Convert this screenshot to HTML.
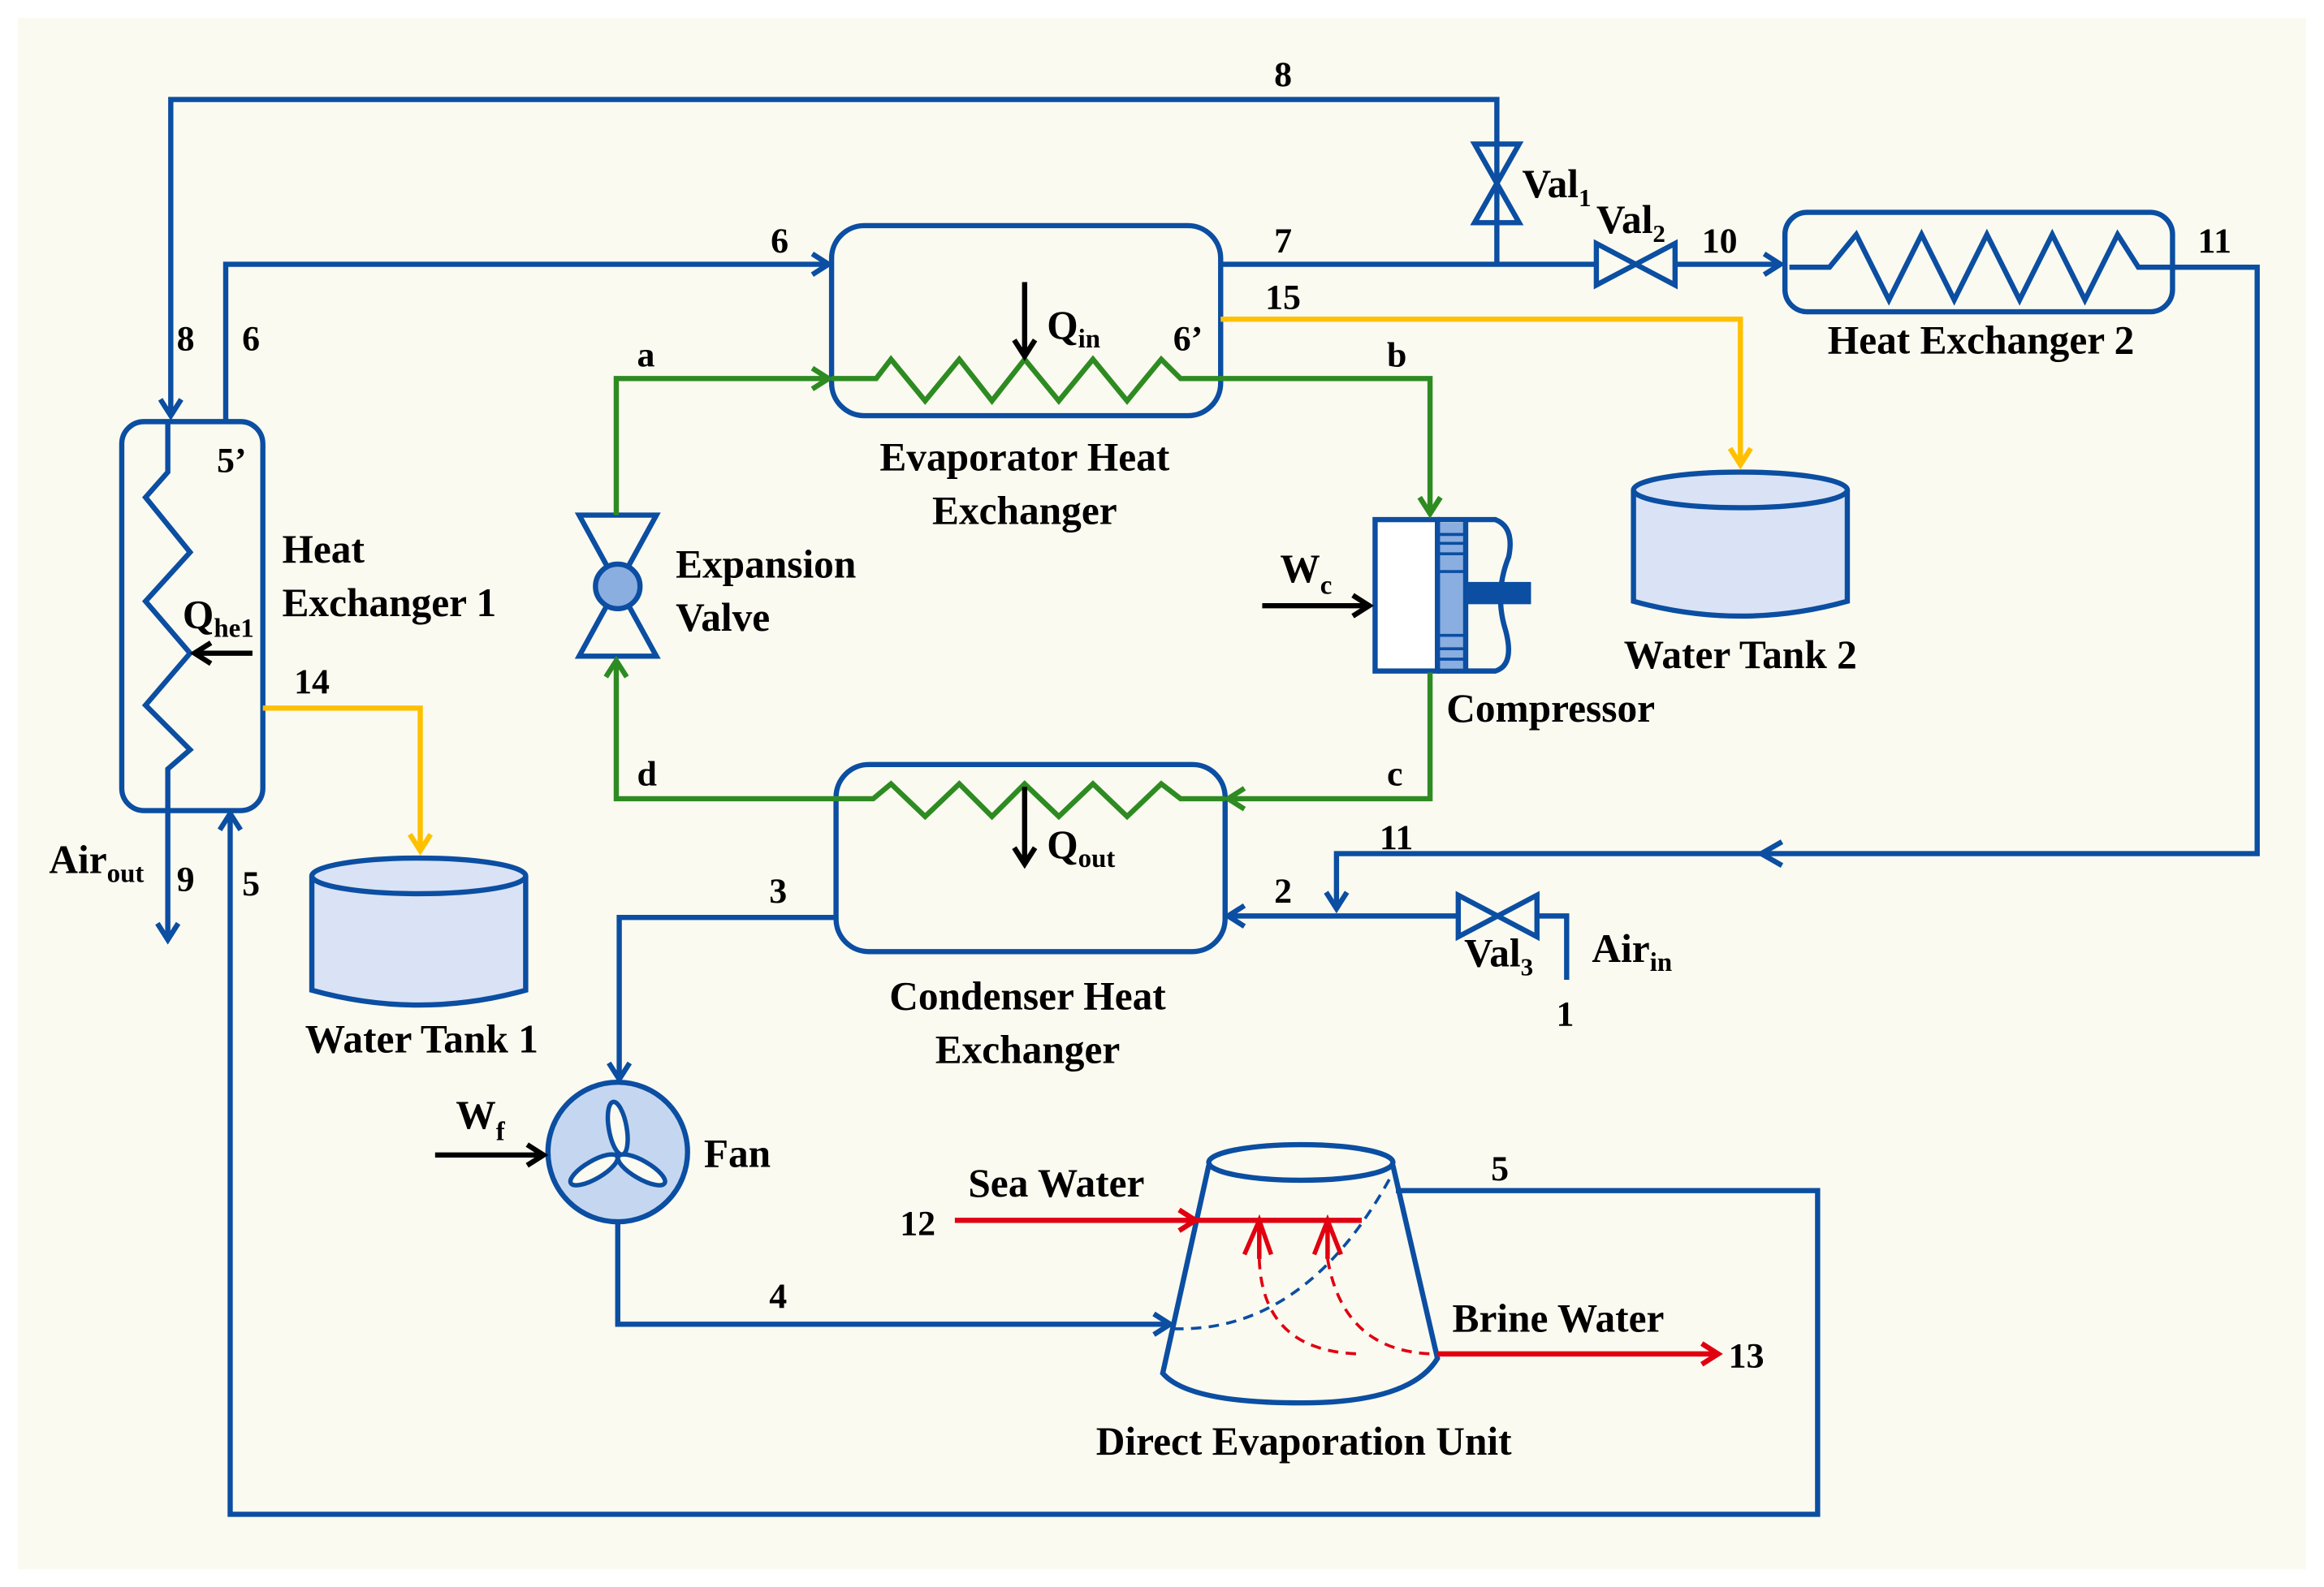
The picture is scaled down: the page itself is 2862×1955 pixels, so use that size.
<!DOCTYPE html>
<html><head><meta charset="utf-8"><style>
html,body{margin:0;padding:0;background:#fff;}
svg{display:block;}
text{font-family:"Liberation Serif",serif;font-weight:bold;fill:#000;}
</style></head><body>
<svg width="2862" height="1955" viewBox="0 0 1565 1069" preserveAspectRatio="none" xmlns="http://www.w3.org/2000/svg">
<defs>
<marker id="ab" markerUnits="userSpaceOnUse" markerWidth="16" markerHeight="16" refX="12" refY="7" orient="auto" overflow="visible"><path d="M1,0 L12,7 L1,14" fill="none" stroke="#0b4ea2" stroke-width="3.5"/></marker>
<marker id="ag" markerUnits="userSpaceOnUse" markerWidth="16" markerHeight="16" refX="12" refY="7" orient="auto" overflow="visible"><path d="M1,0 L12,7 L1,14" fill="none" stroke="#2e8b22" stroke-width="3.5"/></marker>
<marker id="ay" markerUnits="userSpaceOnUse" markerWidth="16" markerHeight="16" refX="12" refY="7" orient="auto" overflow="visible"><path d="M1,0 L12,7 L1,14" fill="none" stroke="#ffc000" stroke-width="3.5"/></marker>
<marker id="ar" markerUnits="userSpaceOnUse" markerWidth="16" markerHeight="16" refX="12" refY="7" orient="auto" overflow="visible"><path d="M1,0 L12,7 L1,14" fill="none" stroke="#e00010" stroke-width="3.5"/></marker>
<marker id="ak" markerUnits="userSpaceOnUse" markerWidth="16" markerHeight="16" refX="12" refY="7" orient="auto" overflow="visible"><path d="M1,0 L12,7 L1,14" fill="none" stroke="#000" stroke-width="3.5"/></marker>
</defs>
<rect x="12" y="12" width="1541" height="1045" fill="#fafaf0"/>
<g fill="none" stroke="#0b4ea2" stroke-width="3.5">
<!-- line 8 -->
<path d="M1008,150 L1008,67 L115,67 L115,280" marker-end="url(#ab)"/>
<!-- line 6 -->
<path d="M152,284 L152,178 L558,178" marker-end="url(#ab)"/>
<!-- evaporator -->
<rect x="560" y="152" width="262" height="128" rx="22"/>
<!-- line 7 -->
<path d="M822,178 L1075,178"/>
<path d="M1128,178 L1199,178" marker-end="url(#ab)"/>
<path d="M1008,150 L1008,178"/>
<!-- valves -->
<path d="M993,97 L1023,97 L993,150 L1023,150 Z"/>
<path d="M1075,164 L1075,192 L1128,164 L1128,192 Z"/>
<path d="M982,603 L982,631 L1035,603 L1035,631 Z"/>
<!-- HX2 -->
<rect x="1202" y="143" width="261" height="67" rx="15"/>
<path d="M1205,180 L1232,180 L1250,158 L1272,202 L1294,158 L1316,202 L1338,158 L1360,202 L1382,158 L1404,202 L1426,158 L1440,180 L1463,180"/>
<!-- line 11 -->
<path d="M1463,180 L1520,180 L1520,575 L900,575 L900,612" marker-end="url(#ab)"/>
<path d="M1200,567 L1186,575 L1200,583"/>
<!-- compressor -->
<rect x="926" y="350" width="42" height="102" fill="#fff"/>
<path d="M968,350 L1007,350 Q1020,355 1016,375 Q1006,400 1014,425 Q1020,448 1007,452 L968,452"/>
<rect x="969" y="352" width="18" height="98" fill="#8aaee0" stroke="none"/>
<g stroke="#0b4ea2" stroke-width="2"><path d="M969,360H987M969,366H987M969,373H987M969,385H987M969,428H987M969,437H987M969,444H987"/></g>
<path d="M968,350 L968,452 M987,350 L987,452"/>
<rect x="987" y="392" width="44" height="15" fill="#0b4ea2" stroke="none"/>
<!-- condenser -->
<rect x="563" y="515" width="262" height="126" rx="22"/>
<!-- line 2 -->
<path d="M1055,660 L1055,617 L1035,617"/>
<path d="M982,617 L827,617" marker-end="url(#ab)"/>
<!-- line 3 -->
<path d="M563,618 L417,618 L417,727" marker-end="url(#ab)"/>
<!-- fan -->
<circle cx="416" cy="776" r="47" fill="#c5d7f0"/>
<!-- line 4 -->
<path d="M416,823 L416,892 L788,892" marker-end="url(#ab)"/>
<!-- DEU -->
<ellipse cx="876" cy="783" rx="62" ry="12"/>
<path d="M814,785 L783,925 Q800,945 876,945 Q950,945 968,915 L938,785"/>
<path d="M790,895 Q880,898 938,790" stroke-width="2" stroke-dasharray="7,5"/>
<!-- line 5 -->
<path d="M940,802 L1224,802 L1224,1020 L155,1020 L155,548" marker-end="url(#ab)"/>
<!-- HX1 -->
<rect x="82" y="284" width="95" height="262" rx="15"/>
<path d="M113,284 L113,318 L98,335 L128,372 L98,405 L128,440 L98,475 L128,505 L113,518 L113,633" marker-end="url(#ab)"/>
<!-- tanks -->
<path d="M1100,330 L1100,405 Q1172,425 1244,405 L1244,330" fill="#d9e3f5"/>
<ellipse cx="1172" cy="330" rx="72" ry="12" fill="#d9e3f5"/>
<path d="M210,590 L210,667 Q282,687 354,667 L354,590" fill="#d9e3f5"/>
<ellipse cx="282" cy="590" rx="72" ry="12" fill="#d9e3f5"/>
<!-- expansion valve -->
<path d="M390,347 L442,347 L390,442 L442,442 Z"/>
<circle cx="416" cy="395" r="15" fill="#8aaee0"/>
</g>
<!-- fan blades -->
<g fill="#fafaf0" stroke="#0b4ea2" stroke-width="3">
<ellipse cx="416" cy="760" rx="6" ry="18" transform="rotate(-10 416 760)"/>
<ellipse cx="400" cy="788" rx="6" ry="18" transform="rotate(60 400 788)"/>
<ellipse cx="432" cy="788" rx="6" ry="18" transform="rotate(-60 432 788)"/>
</g>
<!-- green loop -->
<g fill="none" stroke="#2e8b22" stroke-width="3.5">
<path d="M415,347 L415,255 L558,255" marker-end="url(#ag)"/>
<path d="M560,255 L590,255 L600,242 L623,270 L646,242 L668,270 L690,242 L713,270 L736,242 L759,270 L782,242 L795,255 L963,255 L963,346" marker-end="url(#ag)"/>
<path d="M963,453 L963,538 L827,538" marker-end="url(#ag)"/>
<path d="M825,538 L795,538 L782,528 L759,550 L736,528 L713,550 L690,528 L668,550 L646,528 L623,550 L600,528 L588,538 L415,538 L415,445" marker-end="url(#ag)"/>
</g>
<!-- yellow -->
<g fill="none" stroke="#ffc000" stroke-width="3.5">
<path d="M822,215 L1172,215 L1172,313" marker-end="url(#ay)"/>
<path d="M177,477 L283,477 L283,573" marker-end="url(#ay)"/>
</g>
<!-- red -->
<g fill="none" stroke="#e00010" stroke-width="3.5">
<path d="M643,822 L805,822" marker-end="url(#ar)"/>
<path d="M805,822 L917,822"/>
<path d="M968,912 L1157,912" marker-end="url(#ar)"/>
<g stroke-width="3"><path d="M838,845 L848,822 L856,845 M848,822 L848,848 M885,845 L894,822 L903,845 M894,822 L894,848"/></g>
<g stroke-width="2" stroke-dasharray="7,5"><path d="M848,848 Q850,910 915,912 M894,848 Q905,912 968,912"/></g>
</g>
<!-- black arrows -->
<g fill="none" stroke="#000" stroke-width="3.5">
<path d="M690,190 L690,240" marker-end="url(#ak)"/>
<path d="M690,530 L690,582" marker-end="url(#ak)"/>
<path d="M850,408 L922,408" marker-end="url(#ak)"/>
<path d="M293,778 L366,778" marker-end="url(#ak)"/>
<path d="M170,440 L131,440" marker-end="url(#ak)"/>
</g>
<!-- labels -->
<g font-size="24">
<text x="858" y="58">8</text>
<text x="519" y="170">6</text>
<text x="858" y="170">7</text>
<text x="852" y="208">15</text>
<text x="1146" y="170">10</text>
<text x="1480" y="170">11</text>
<text x="929" y="572">11</text>
<text x="119" y="236">8</text>
<text x="163" y="236">6</text>
<text x="146" y="318">5’</text>
<text x="790" y="236">6’</text>
<text x="429" y="247">a</text>
<text x="934" y="247">b</text>
<text x="934" y="529">c</text>
<text x="429" y="529">d</text>
<text x="198" y="467">14</text>
<text x="119" y="600">9</text>
<text x="163" y="603">5</text>
<text x="518" y="608">3</text>
<text x="858" y="608">2</text>
<text x="1048" y="691">1</text>
<text x="518" y="881">4</text>
<text x="1004" y="795">5</text>
<text x="606" y="832">12</text>
<text x="1164" y="921">13</text>
</g>
<g font-size="27">
<text x="1025" y="133">Val<tspan font-size="17" dy="6">1</tspan></text>
<text x="1075" y="157">Val<tspan font-size="17" dy="6">2</tspan></text>
<text x="986" y="651">Val<tspan font-size="17" dy="6">3</tspan></text>
<text x="705" y="228">Q<tspan font-size="18" dy="6">in</tspan></text>
<text x="705" y="578">Q<tspan font-size="18" dy="6">out</tspan></text>
<text x="123" y="423">Q<tspan font-size="18" dy="6">he1</tspan></text>
<text x="862" y="392">W<tspan font-size="18" dy="8">c</tspan></text>
<text x="307" y="760">W<tspan font-size="18" dy="8">f</tspan></text>
<text x="33" y="588">Air<tspan font-size="18" dy="6">out</tspan></text>
<text x="1072" y="648">Air<tspan font-size="18" dy="6">in</tspan></text>
<text x="1334" y="238" text-anchor="middle">Heat Exchanger 2</text>
<text x="1172" y="450" text-anchor="middle">Water Tank 2</text>
<text x="284" y="709" text-anchor="middle">Water Tank 1</text>
<text x="974" y="486">Compressor</text>
<text x="690" y="317" text-anchor="middle">Evaporator Heat</text>
<text x="690" y="353" text-anchor="middle">Exchanger</text>
<text x="692" y="680" text-anchor="middle">Condenser Heat</text>
<text x="692" y="716" text-anchor="middle">Exchanger</text>
<text x="190" y="379">Heat</text>
<text x="190" y="415">Exchanger 1</text>
<text x="455" y="389">Expansion</text>
<text x="455" y="425">Valve</text>
<text x="474" y="786">Fan</text>
<text x="652" y="806">Sea Water</text>
<text x="978" y="897">Brine Water</text>
<text x="878" y="980" text-anchor="middle">Direct Evaporation Unit</text>
</g>
</svg>
</body></html>
